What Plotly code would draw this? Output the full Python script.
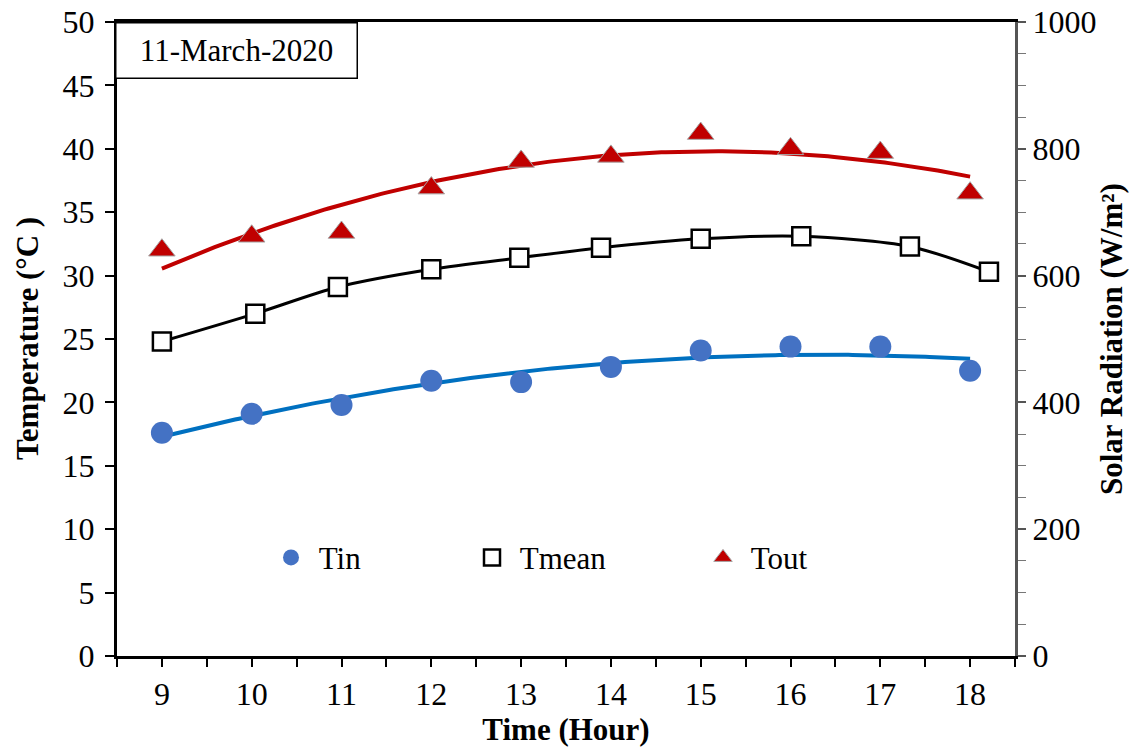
import numpy as np
import plotly.graph_objects as go

# Hourly temperature readings, 11 March 2020
hours = [9, 10, 11, 12, 13, 14, 15, 16, 17, 18]
t_in = [17.6, 19.1, 19.8, 21.7, 21.6, 22.8, 24.1, 24.4, 24.4, 22.5]
t_out = [32.0, 33.1, 33.4, 36.9, 39.0, 39.4, 41.2, 40.0, 39.7, 36.5]
tmean_hours = [9.0, 10.04, 10.96, 12.0, 12.98, 13.89, 15.0, 16.12, 17.33, 18.21]
t_mean = [24.8, 27.0, 29.1, 30.5, 31.4, 32.2, 32.9, 33.1, 32.3, 30.3]

FONT = "Liberation Serif, Times New Roman, serif"
BLUE = "#4472C4"
BLUE_LINE = "#0070C0"
RED = "#C00000"
NBSP = "\u00a0"

# Second-order polynomial trendlines
xs = np.linspace(9, 18, 200)
fit_in = np.polyval(np.polyfit(hours, t_in, 2), xs)
fit_out = np.polyval(np.polyfit(hours, t_out, 2), xs)

fig = go.Figure()

fig.add_trace(go.Scatter(x=xs, y=fit_in, mode="lines",
                         line=dict(color=BLUE_LINE, width=4), showlegend=False, hoverinfo="skip"))
fig.add_trace(go.Scatter(x=xs, y=fit_out, mode="lines",
                         line=dict(color=RED, width=4), showlegend=False, hoverinfo="skip"))
fig.add_trace(go.Scatter(x=tmean_hours, y=t_mean, mode="lines",
                         line=dict(color="black", width=3, shape="spline", smoothing=0.8),
                         showlegend=False, hoverinfo="skip"))

fig.add_trace(go.Scatter(x=hours, y=t_in, mode="markers", name=NBSP + "Tin", legend="legend",
                         marker=dict(symbol="circle", size=22, color=BLUE, line=dict(width=0))))
fig.add_trace(go.Scatter(x=tmean_hours, y=t_mean, mode="markers", name=NBSP + "Tmean",
                         legend="legend2",
                         marker=dict(symbol="square", size=18, color="white",
                                     line=dict(color="black", width=2.5))))
fig.add_trace(go.Scatter(x=hours, y=t_out, mode="markers", name=NBSP + "Tout", legend="legend3",
                         marker=dict(symbol="triangle-up", size=23, color=RED,
                                     line=dict(color="#A6A6A6", width=1))))

# placeholder trace so the radiation axis is drawn
fig.add_trace(go.Scatter(x=[9], y=[None], yaxis="y2", showlegend=False, hoverinfo="skip"))

axis_font = dict(family=FONT, size=32, color="black")
title_font = dict(family=FONT, size=31, color="black")
legend_font = dict(family=FONT, size=31, color="black")

PLOT_W = 1133 - 117 - 118


def legend_at(px_left):
    return dict(orientation="h", x=(px_left - 117) / PLOT_W, y=0.155,
                xanchor="left", yanchor="middle", font=legend_font,
                bgcolor="rgba(0,0,0,0)", itemsizing="trace")


fig.update_layout(
    width=1133, height=749,
    margin=dict(l=117, r=118, t=22, b=93),
    paper_bgcolor="white", plot_bgcolor="white",
    font=dict(family=FONT, color="black"),
    xaxis=dict(range=[8.5, 18.5], tick0=9, dtick=1, ticks="outside", ticklen=8, tickwidth=2,
               tickcolor="black", showline=True, linecolor="black", linewidth=3, mirror=True,
               showgrid=False, zeroline=False, tickfont=axis_font, automargin=False,
               minor=dict(dtick=0.5, tick0=8.5, ticks="outside", ticklen=8, tickwidth=2,
                          tickcolor="black", showgrid=False),
               title=dict(text="<b>Time (Hour)</b>", font=title_font, standoff=0)),
    yaxis=dict(range=[0, 50], dtick=5, ticks="outside", ticklen=9, tickwidth=2,
               tickcolor="black", showline=True, linecolor="black", linewidth=3,
               showgrid=False, zeroline=False, tickfont=axis_font, automargin=False,
               ticklabelstandoff=4),
    yaxis2=dict(range=[0, 1000], dtick=200, overlaying="y", side="right", ticks="outside",
                ticklen=8, tickwidth=1.5, tickcolor="#555555", showline=True,
                linecolor="#555555", linewidth=3, showgrid=False, zeroline=False,
                tickfont=axis_font, automargin=False,
                minor=dict(dtick=50, ticks="outside", ticklen=8, tickwidth=1,
                           tickcolor="#777777", showgrid=False)),
    legend=legend_at(271),
    legend2=legend_at(472),
    legend3=legend_at(703),
    annotations=[
        dict(text="11-March-2020", xref="paper", yref="paper", x=-0.002, y=1,
             xanchor="left", yanchor="top", showarrow=False,
             font=dict(family=FONT, size=31, color="black"),
             bgcolor="white", bordercolor="black", borderwidth=1.5,
             width=238, height=52, borderpad=1),
        dict(text="<b>Temperature (°C )</b>", xref="paper", yref="paper",
             x=-(117 - 27) / PLOT_W, y=0.5,
             xanchor="center", yanchor="middle", textangle=-90, showarrow=False,
             font=title_font),
        dict(text="<b>Solar Radiation (W/m²)</b>", xref="paper", yref="paper",
             x=1 + (1111 - 1015) / PLOT_W, y=0.5,
             xanchor="center", yanchor="middle", textangle=-90, showarrow=False,
             font=title_font),
    ],
)

fig.write_html("out.html")
